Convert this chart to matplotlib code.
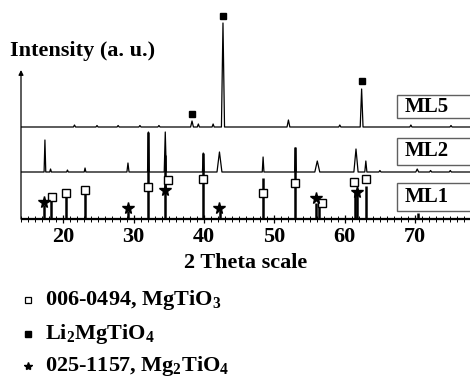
import matplotlib
matplotlib.use("Agg")
import matplotlib.pyplot as plt
from matplotlib.patches import Rectangle
from matplotlib.ticker import MultipleLocator

plt.rcParams['font.family'] = ['Liberation Serif', 'DejaVu Serif']
plt.rcParams['font.weight'] = 'bold'
plt.rcParams['mathtext.fontset'] = 'custom'
plt.rcParams['mathtext.rm'] = 'Liberation Serif:bold'
plt.rcParams['mathtext.it'] = 'Liberation Serif:bold'
plt.rcParams['mathtext.bf'] = 'Liberation Serif:bold'
plt.rcParams['mathtext.default'] = 'rm'

# peak positions (2 theta) and heights above each trace's own baseline
ml5_pos = [21.6, 24.8, 27.8, 30.9, 33.6, 38.3, 39.2, 41.3, 42.7, 52.0, 59.3, 62.4, 69.4, 75.1]
ml5_int = [2, 1.5, 1.5, 1.5, 1.5, 6, 3, 3, 104, 7, 2, 38, 2, 1.5]
ml5_wid = [0.15, 0.15, 0.15, 0.15, 0.15, 0.2, 0.15, 0.15, 0.22, 0.2, 0.15, 0.2, 0.15, 0.15]

ml2_pos = [17.4, 18.2, 20.6, 23.1, 29.2, 32.1, 34.5, 39.9, 42.2, 48.4, 53.0, 56.1, 61.6, 63.0, 65.0, 70.3, 72.2, 75.0]
ml2_int = [32, 3, 2, 4, 9, 40, 40, 19, 20, 15, 24, 11, 23, 11, 1.5, 3, 1.5, 1.5]
ml2_wid = [0.12, 0.12, 0.12, 0.12, 0.15, 0.12, 0.15, 0.12, 0.35, 0.12, 0.12, 0.35, 0.3, 0.15, 0.15, 0.2, 0.15, 0.15]

ml1_pos = [17.3, 18.3, 20.4, 23.1, 29.2, 32.1, 34.5, 39.9, 42.3, 48.4, 53.0, 55.9, 56.3, 61.4, 61.8, 63.0, 70.4]
ml1_int = [14, 19, 22, 25, 8, 87, 64, 66, 8, 41, 72, 16, 14, 29, 29, 33, 6]

# phase markers: (2 theta, height)
mgtio3_x = [18.4, 20.4, 23.1, 32.1, 34.9, 39.8, 48.4, 53.0, 56.8, 61.3, 63.0]
mgtio3_y = [22, 26, 29, 32, 39.5, 40, 26, 36, 16, 37, 40]
mg2tio4_x = [17.3, 29.2, 34.4, 42.2, 55.9, 61.8]
mg2tio4_y = [17.5, 11, 29, 11, 21, 27.5]
li2_x = [38.3, 42.7, 62.4]
li2_y = [13, 111, 46]

offsets = {'ML1': 0, 'ML2': 47, 'ML5': 92}
labels_box = {'ML5': (101, 124), 'ML2': (54, 81), 'ML1': (8, 36)}

xmin, xmax = 14.0, 77.8


def trace(pos, inten, wid):
    xs, ys = [xmin], [0.0]
    for p, h, w in sorted(zip(pos, inten, wid)):
        xs += [p - w, p, p + w]
        ys += [0.0, h, 0.0]
    xs.append(xmax)
    ys.append(0.0)
    return xs, ys


fig = plt.figure(figsize=(4.7, 3.8), dpi=100)
ax = fig.add_axes([21 / 470, 1 - 219 / 380, 1 - 21 / 470, 209 / 380])

x5, y5 = trace(ml5_pos, ml5_int, ml5_wid)
ax.plot(x5, [v + offsets['ML5'] for v in y5], color='k', lw=0.9)
x2, y2 = trace(ml2_pos, ml2_int, ml2_wid)
ax.plot(x2, [v + offsets['ML2'] for v in y2], color='k', lw=0.9)

ax.plot([xmin, xmax], [0.6, 0.6], color='k', lw=0.9)
ax.vlines(ml1_pos, 0.6, ml1_int, color='k', lw=1.8)

ax.plot(mgtio3_x, mgtio3_y, 's', ms=6, mfc='white', mec='k', mew=1.0, ls='none')
ax.plot(mg2tio4_x, mg2tio4_y, '*', ms=8.5, color='k', ls='none')
ax.plot(li2_x, [v + offsets['ML5'] for v in li2_y], 's', ms=4.5, color='k', ls='none')

for name, (y0, y1) in labels_box.items():
    ax.add_patch(Rectangle((67.4, y0), 12, y1 - y0, fill=True, fc='white',
                           ec='#606060', lw=1.0, clip_on=False, zorder=3))
    ax.text(68.5, (y0 + y1) / 2, name, fontsize=15, fontweight='bold',
            va='center', ha='left', zorder=4)

ax.set_xlim(xmin, xmax)
ax.set_ylim(0, 209)
for s in ['top', 'right', 'left']:
    ax.spines[s].set_visible(False)
ax.spines['bottom'].set_linewidth(0.9)
ax.annotate('', xy=(xmin, 149), xytext=(xmin, 0),
            arrowprops=dict(arrowstyle='-|>', lw=0.9, color='k', mutation_scale=7,
                            shrinkA=0, shrinkB=0),
            annotation_clip=False)

ax.set_yticks([])
ax.xaxis.set_major_locator(MultipleLocator(10))
ax.xaxis.set_minor_locator(MultipleLocator(1))
ax.tick_params(axis='x', which='major', direction='inout', length=6, width=0.9,
               labelsize=16, pad=3)
ax.tick_params(axis='x', which='minor', direction='inout', length=4, width=0.7)
for lab in ax.get_xticklabels():
    lab.set_fontweight('bold')
ax.set_xlabel('2 Theta scale', fontsize=16, fontweight='bold', labelpad=4)

fig.text(10 / 470, 1 - 51 / 380, 'Intensity (a. u.)', fontsize=16,
         fontweight='bold', va='center', ha='left')

# phase legend below the axes
leg_y = [300, 334, 366]
leg_txt = [r'006-0494, MgTiO$_3$', r'Li$_2$MgTiO$_4$', r'025-1157, Mg$_2$TiO$_4$']
leg_mk = [dict(marker='s', ms=5, mfc='white', mec='k', mew=0.9),
          dict(marker='s', ms=4, mfc='k', mec='k'),
          dict(marker='*', ms=6, mfc='k', mec='k')]
for yy, txt, mk in zip(leg_y, leg_txt, leg_mk):
    fy = 1 - yy / 380
    fig.lines.append(plt.Line2D([28 / 470], [fy], transform=fig.transFigure, ls='none', **mk))
    fig.text(45 / 470, fy, txt, fontsize=16, fontweight='bold', va='center', ha='left')

fig.savefig('out.png', dpi=100)
